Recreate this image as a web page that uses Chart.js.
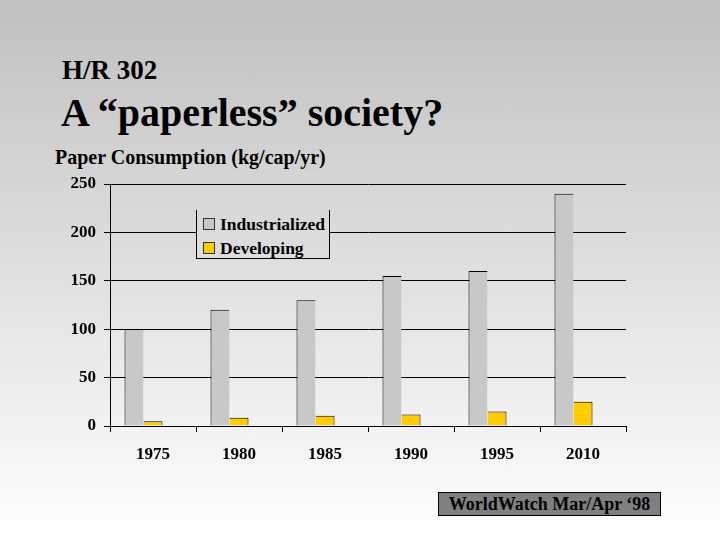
<!DOCTYPE html>
<html>
<head>
<meta charset="utf-8">
<script src="https://cdn.jsdelivr.net/npm/chart.js@4/dist/chart.umd.min.js"></script>
<style>
    html, body { margin: 0; padding: 0; }
    body {
        width: 720px; height: 540px; position: relative; overflow: hidden;
        background: linear-gradient(to bottom, #c0c0c0 0%, #ffffff 100%) fixed;
        font-family: "Liberation Serif", "Times New Roman", serif;
        font-weight: bold; color: #000;
    }
    .txt { position: absolute; white-space: nowrap; line-height: 1; }
    #codigo  { left: 62px; top: 57px; font-size: 27px; }
    #titulo  { left: 61px; top: 93px; font-size: 40px; }
    #subtit  { left: 55px; top: 147px; font-size: 20px; }
    #grafica { position: absolute; left: 0; top: 0; }
    #leyenda {
        position: absolute; left: 196px; top: 210px; width: 132px; height: 48px;
        border: 1px solid #000; border-top: none;
        background: linear-gradient(to bottom, #c0c0c0 0%, #ffffff 100%) fixed;
        font-size: 17.5px;
    }
    .item { position: absolute; left: 6px; height: 20px; }
    .item .cuadro { position: absolute; left: 0; top: 4px; width: 10px; height: 10px; border: 1px solid #333; }
    .item span { position: absolute; left: 17px; top: 0; line-height: 20px; }
    #fuente {
        position: absolute; left: 438px; top: 492px; width: 221px; height: 22px;
        background: #808080; border: 1px solid #000;
        font-size: 18px; line-height: 22px; text-align: center;
    }
</style>
</head>
<body>
<div class="txt" id="codigo">H/R 302</div>
<div class="txt" id="titulo">A “paperless” society?</div>
<div class="txt" id="subtit">Paper Consumption (kg/cap/yr)</div>
<canvas id="grafica" width="720" height="540"></canvas>
<div id="leyenda"></div>
<div id="fuente">WorldWatch Mar/Apr ‘98</div>

<script>
// ── Datos ─────────────────────────────────────────────────────
const anios          = ['1975', '1980', '1985', '1990', '1995', '2010'];
const industrializado = [100, 120, 130, 155, 160, 240];
const enDesarrollo    = [5, 8.5, 10.5, 12, 15, 25];
const hueco           = [null, null, null, null, null, null]; // serie vacía (deja el hueco a la derecha)
const ticksY          = [0, 50, 100, 150, 200, 250];

const GRIS     = '#c8c8c8';
const AMARILLO = '#ffcc00';
const fuente   = '"Liberation Serif", "Times New Roman", serif';

// ── Leyenda ───────────────────────────────────────────────────
const series = [
    { nombre: 'Industrialized', color: GRIS },
    { nombre: 'Developing',     color: AMARILLO },
];
document.getElementById('leyenda').innerHTML = series.map((s, i) => `
    <div class="item" style="top:${4 + i * 24}px">
        <div class="cuadro" style="background:${s.color}"></div>
        <span>${s.nombre}</span>
    </div>`).join('');

// ── Gráfica ───────────────────────────────────────────────────
new Chart(document.getElementById('grafica'), {
    type: 'bar',
    data: {
        labels: anios,
        datasets: [
            { label: 'Industrialized', data: industrializado, backgroundColor: GRIS,
              borderColor: '#000', borderWidth: { left: 1, top: 1, right: 0, bottom: 0 } },
            { label: 'Developing', data: enDesarrollo, backgroundColor: AMARILLO,
              borderColor: '#000', borderWidth: { left: 0, top: 1, right: 1, bottom: 0 } },
            { label: '', data: hueco },
        ]
    },
    options: {
        responsive: false,
        animation: false,
        layout: { padding: { left: 60, top: 184, right: 94, bottom: 69 } },
        datasets: { bar: { categoryPercentage: 57 / 86, barPercentage: 1 } },
        plugins: { legend: { display: false }, tooltip: { enabled: false } },
        scales: {
            x: {
                afterFit: s => { s.height = 45; },
                grid: { drawOnChartArea: false, drawTicks: true, tickLength: 6, color: '#000', offset: true },
                border: { display: true, color: '#000', width: 1 },
                ticks: { color: '#000', padding: 12, font: { family: fuente, size: 17, weight: 'bold' } }
            },
            y: {
                min: 0, max: 250,
                afterFit: s => { s.width = 50; },
                afterBuildTicks: s => { s.ticks = ticksY.map(v => ({ value: v })); },
                grid: { color: '#000', lineWidth: 1, tickLength: 6 },
                border: { display: true, color: '#000', width: 1 },
                ticks: { color: '#000', padding: 8, font: { family: fuente, size: 17, weight: 'bold' } }
            }
        }
    }
});
</script>
</body>
</html>
